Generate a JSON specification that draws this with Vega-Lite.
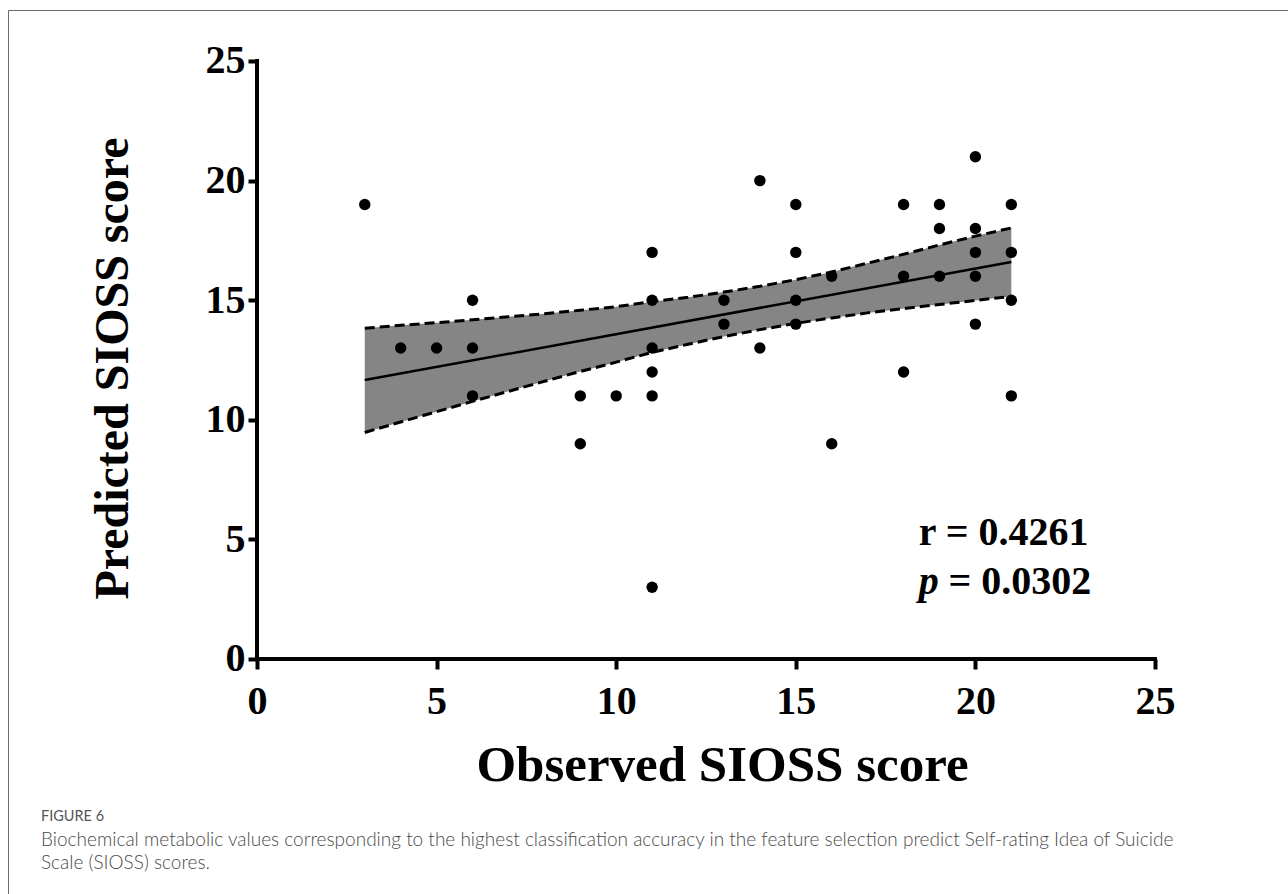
{
  "$schema": "https://vega.github.io/schema/vega-lite/v6.json",
  "autosize": "none",
  "width": 1282,
  "height": 886,
  "padding": {"left": 8, "top": 10, "right": 0, "bottom": 0},
  "background": "white",
  "config": {"view": {"stroke": "#6b6b6b", "strokeWidth": 1}},
  "datasets": {
    "points": [
      {"x": 3, "y": 19}, {"x": 4, "y": 13}, {"x": 5, "y": 13},
      {"x": 6, "y": 15}, {"x": 6, "y": 13}, {"x": 6, "y": 11},
      {"x": 9, "y": 11}, {"x": 9, "y": 9}, {"x": 10, "y": 11},
      {"x": 11, "y": 17}, {"x": 11, "y": 15}, {"x": 11, "y": 13}, {"x": 11, "y": 12}, {"x": 11, "y": 11}, {"x": 11, "y": 3},
      {"x": 13, "y": 15}, {"x": 13, "y": 14},
      {"x": 14, "y": 20}, {"x": 14, "y": 13},
      {"x": 15, "y": 19}, {"x": 15, "y": 17}, {"x": 15, "y": 15}, {"x": 15, "y": 14},
      {"x": 16, "y": 16}, {"x": 16, "y": 9},
      {"x": 18, "y": 19}, {"x": 18, "y": 16}, {"x": 18, "y": 12},
      {"x": 19, "y": 19}, {"x": 19, "y": 18}, {"x": 19, "y": 16},
      {"x": 20, "y": 21}, {"x": 20, "y": 18}, {"x": 20, "y": 17}, {"x": 20, "y": 16}, {"x": 20, "y": 14},
      {"x": 21, "y": 19}, {"x": 21, "y": 17}, {"x": 21, "y": 15}, {"x": 21, "y": 11}
    ],
    "band": [
      {"x": 3, "lo": 9.47, "hi": 13.83},
      {"x": 4, "lo": 9.91, "hi": 13.95},
      {"x": 5, "lo": 10.34, "hi": 14.06},
      {"x": 6, "lo": 10.77, "hi": 14.18},
      {"x": 7, "lo": 11.19, "hi": 14.31},
      {"x": 8, "lo": 11.61, "hi": 14.43},
      {"x": 9, "lo": 12.02, "hi": 14.58},
      {"x": 10, "lo": 12.41, "hi": 14.73},
      {"x": 11, "lo": 12.82, "hi": 14.94},
      {"x": 12, "lo": 13.16, "hi": 15.12},
      {"x": 13, "lo": 13.48, "hi": 15.34},
      {"x": 14, "lo": 13.77, "hi": 15.58},
      {"x": 15, "lo": 14.03, "hi": 15.86},
      {"x": 16, "lo": 14.26, "hi": 16.18},
      {"x": 17, "lo": 14.47, "hi": 16.55},
      {"x": 18, "lo": 14.65, "hi": 16.92},
      {"x": 19, "lo": 14.82, "hi": 17.31},
      {"x": 20, "lo": 14.99, "hi": 17.68},
      {"x": 21, "lo": 15.16, "hi": 18.02}
    ],
    "fit": [
      {"x": 3, "y": 11.66},
      {"x": 21, "y": 16.6}
    ]
  },
  "layer": [
    {
      "data": {"name": "band"},
      "mark": {"type": "area", "color": "#858585", "opacity": 1},
      "encoding": {
        "x": {
          "field": "x", "type": "quantitative", "title": "Observed SIOSS score",
          "scale": {"domain": [-6.932, 28.758], "nice": false, "zero": false},
          "axis": {
            "values": [0, 5, 10, 15, 20, 25], "format": "d",
            "domain": false, "grid": false, "offset": -237,
            "tickSize": 10, "tickWidth": 4, "tickColor": "black",
            "labelFont": "Liberation Serif", "labelFontWeight": "bold", "labelFontSize": 40,
            "labelColor": "black", "labelPadding": 12, "labelFlush": false, "labelOverlap": false,
            "titleFont": "Liberation Serif", "titleFontWeight": "bold", "titleFontSize": 51,
            "titleColor": "black", "titleX": 714, "titleY": 121, "titleBaseline": "alphabetic", "titleAlign": "center"
          }
        },
        "y": {
          "field": "hi", "type": "quantitative", "title": "Predicted SIOSS score",
          "scale": {"domain": [-9.908, 27.132], "nice": false, "zero": false},
          "axis": {
            "values": [0, 5, 10, 15, 20, 25], "format": "d",
            "domain": false, "grid": false, "offset": -249,
            "tickSize": 9, "tickWidth": 4, "tickColor": "black",
            "labelFont": "Liberation Serif", "labelFontWeight": "bold", "labelFontSize": 40,
            "labelColor": "black", "labelPadding": 3, "labelFlush": false, "labelOverlap": false,
            "titleFont": "Liberation Serif", "titleFontWeight": "bold", "titleFontSize": 48,
            "titleColor": "black", "titleX": -130, "titleY": 358, "titleAngle": 270,
            "titleBaseline": "alphabetic", "titleAlign": "center"
          }
        },
        "y2": {"field": "lo"}
      }
    },
    {
      "data": {"name": "band"},
      "mark": {"type": "line", "color": "black", "strokeWidth": 3, "strokeDash": [10, 5]},
      "encoding": {
        "x": {"field": "x", "type": "quantitative", "title": "Observed SIOSS score"},
        "y": {"field": "hi", "type": "quantitative", "title": "Predicted SIOSS score"}
      }
    },
    {
      "data": {"name": "band"},
      "mark": {"type": "line", "color": "black", "strokeWidth": 3, "strokeDash": [10, 5]},
      "encoding": {
        "x": {"field": "x", "type": "quantitative", "title": "Observed SIOSS score"},
        "y": {"field": "lo", "type": "quantitative", "title": "Predicted SIOSS score"}
      }
    },
    {
      "data": {"name": "fit"},
      "mark": {"type": "line", "color": "black", "strokeWidth": 2.5},
      "encoding": {
        "x": {"field": "x", "type": "quantitative", "title": "Observed SIOSS score"},
        "y": {"field": "y", "type": "quantitative", "title": "Predicted SIOSS score"}
      }
    },
    {
      "data": {"name": "points"},
      "mark": {"type": "circle", "color": "black", "size": 130, "opacity": 1},
      "encoding": {
        "x": {"field": "x", "type": "quantitative", "title": "Observed SIOSS score"},
        "y": {"field": "y", "type": "quantitative", "title": "Predicted SIOSS score"}
      }
    },
    {
      "data": {"values": [{}]},
      "mark": {"type": "rule", "color": "black", "strokeWidth": 4, "strokeCap": "square"},
      "encoding": {
        "x": {"datum": 0, "type": "quantitative", "title": "Observed SIOSS score"},
        "x2": {"datum": 25},
        "y": {"datum": 0, "type": "quantitative", "title": "Predicted SIOSS score"}
      }
    },
    {
      "data": {"values": [{}]},
      "mark": {"type": "rule", "color": "black", "strokeWidth": 4, "strokeCap": "square"},
      "encoding": {
        "x": {"datum": 0, "type": "quantitative", "title": "Observed SIOSS score"},
        "y": {"datum": 0, "type": "quantitative", "title": "Predicted SIOSS score"},
        "y2": {"datum": 25}
      }
    },
    {
      "data": {"values": [{}]},
      "mark": {"type": "text", "text": "r = 0.4261", "font": "Liberation Serif", "fontWeight": "bold", "fontSize": 40, "align": "left", "baseline": "alphabetic", "color": "black"},
      "encoding": {
        "x": {"datum": 18.42, "type": "quantitative", "title": "Observed SIOSS score"},
        "y": {"datum": 4.75, "type": "quantitative", "title": "Predicted SIOSS score"}
      }
    },
    {
      "data": {"values": [{}]},
      "mark": {"type": "text", "text": "p", "font": "Liberation Serif", "fontWeight": "bold", "fontStyle": "italic", "fontSize": 40, "align": "left", "baseline": "alphabetic", "color": "black"},
      "encoding": {
        "x": {"datum": 18.42, "type": "quantitative", "title": "Observed SIOSS score"},
        "y": {"datum": 2.72, "type": "quantitative", "title": "Predicted SIOSS score"}
      }
    },
    {
      "data": {"values": [{}]},
      "mark": {"type": "text", "text": "= 0.0302", "font": "Liberation Serif", "fontWeight": "bold", "fontSize": 40, "align": "left", "baseline": "alphabetic", "color": "black"},
      "encoding": {
        "x": {"datum": 19.25, "type": "quantitative", "title": "Observed SIOSS score"},
        "y": {"datum": 2.72, "type": "quantitative", "title": "Predicted SIOSS score"}
      }
    },
    {
      "data": {"values": [{}]},
      "mark": {"type": "text", "text": "FIGURE 6", "font": "Lato", "fontSize": 14.5, "align": "left", "baseline": "middle", "color": "#555555"},
      "encoding": {
        "x": {"datum": -6.013, "type": "quantitative", "title": "Observed SIOSS score"},
        "y": {"datum": -6.605, "type": "quantitative", "title": "Predicted SIOSS score"}
      }
    },
    {
      "data": {"values": [{}]},
      "mark": {"type": "text", "text": "Biochemical metabolic values corresponding to the highest classification accuracy in the feature selection predict Self-rating Idea of Suicide", "font": "Lato", "fontWeight": 300, "fontSize": 19, "align": "left", "baseline": "middle", "color": "#4a4a4a"},
      "encoding": {
        "x": {"datum": -6.013, "type": "quantitative", "title": "Observed SIOSS score"},
        "y": {"datum": -7.567, "type": "quantitative", "title": "Predicted SIOSS score"}
      }
    },
    {
      "data": {"values": [{}]},
      "mark": {"type": "text", "text": "Scale (SIOSS) scores.", "font": "Lato", "fontWeight": 300, "fontSize": 19, "align": "left", "baseline": "middle", "color": "#4a4a4a"},
      "encoding": {
        "x": {"datum": -6.013, "type": "quantitative", "title": "Observed SIOSS score"},
        "y": {"datum": -8.528, "type": "quantitative", "title": "Predicted SIOSS score"}
      }
    }
  ]
}
